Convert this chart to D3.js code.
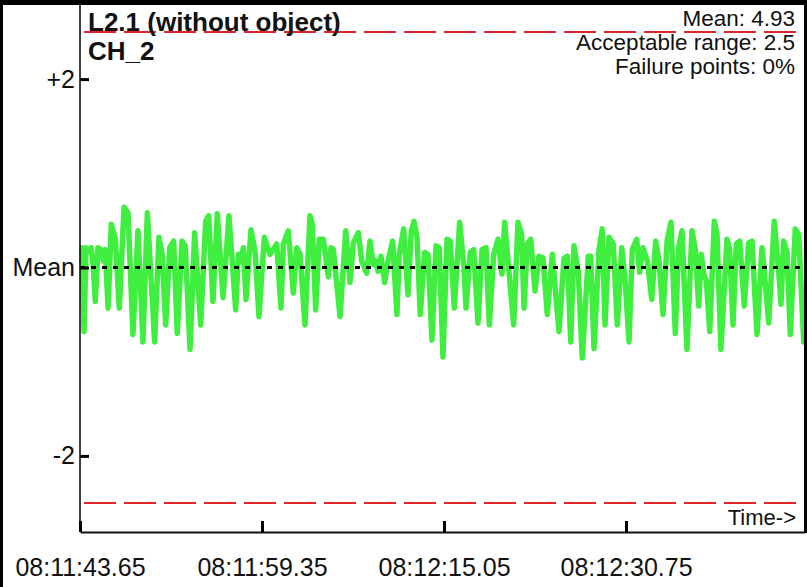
<!DOCTYPE html>
<html>
<head>
<meta charset="utf-8">
<script src="https://cdnjs.cloudflare.com/ajax/libs/d3/7.8.5/d3.min.js"></script>
<style>
  body { margin: 0; background: #fff; }
  svg { display: block; font-family: "Liberation Sans", Arial, sans-serif; }
</style>
</head>
<body>
<div id="chart"></div>
<script>
// header info
const chartTitle = "L2.1 (without object)"
const channel = "CH_2"
const meanValue = 4.93
const acceptableRange = 2.5
const failurePct = 0

// x ticks: seconds after first sample, with their clock labels
const timeSpan = 62.54
const tickSeconds = [0, 15.7, 31.4, 47.1]
const tickLabels = ["08:11:43.65", "08:11:59.35", "08:12:15.05", "08:12:30.75"]

// y ticks (deviation from mean)
const yTickValues = [2, 0, -2]
const yTickLabels = ["+2", "Mean", "-2"]

// signal: seconds since start / deviation from mean
const sampleTimes = [
  0.17, 0.35, 0.52, 0.75, 0.97, 1.15, 1.32, 1.55, 1.79, 2.01, 2.18, 2.42, 2.70, 3.05, 3.39, 3.80, 4.14, 4.57, 5.00, 5.43,
  5.81, 6.44, 6.81, 7.07, 7.39, 7.74, 8.08, 8.39, 8.80, 9.08, 9.49, 9.89, 10.41, 10.84, 11.10, 11.47, 11.84, 12.34, 12.85, 13.43,
  13.66, 13.89, 14.09, 14.32, 14.75, 15.10, 15.44, 15.90, 16.19, 16.39, 16.76, 16.97, 17.34, 17.54, 17.97, 18.40, 18.69, 18.98, 19.41, 19.84,
  20.04, 20.33, 20.64, 20.99, 21.42, 21.65, 21.85, 22.43, 22.92, 23.29, 23.58, 24.01, 24.30, 24.73, 25.02, 25.30, 25.53, 25.71, 25.96, 26.28,
  26.57, 26.97, 27.34, 27.54, 27.92, 28.29, 28.58, 28.81, 29.07, 29.35, 29.73, 30.02, 30.36, 30.71, 30.99, 31.31, 31.66, 31.94, 32.29, 32.75,
  33.10, 33.30, 33.67, 33.96, 34.33, 34.68, 35.02, 35.31, 35.69, 36.06, 36.40, 36.63, 37.41, 37.78, 38.10, 38.30, 38.58, 38.88, 39.25, 39.59,
  39.94, 40.31, 40.74, 41.32, 41.75, 42.04, 42.33, 42.61, 42.98, 43.33, 43.85, 44.05, 44.34, 44.77, 45.05, 45.29, 45.63, 46.00, 46.35, 46.73,
  47.01, 47.36, 47.64, 48.02, 48.28, 48.56, 48.94, 49.32, 49.66, 49.95, 50.29, 50.66, 50.98, 51.35, 51.64, 51.93, 52.36, 52.79, 53.08, 53.37,
  53.59, 53.80, 54.03, 54.32, 54.72, 54.95, 55.29, 55.81, 56.04, 56.33, 56.61, 56.91, 57.30, 57.68, 57.97, 58.40, 58.83, 59.03, 59.41, 59.89,
  60.27, 60.47, 60.70, 60.99, 61.27, 61.70, 62.00, 62.43
]
const sampleValues = [
  0.21, -0.68, 0.21, 0.17, 0.21, 0.00, -0.36, 0.21, 0.19, 0.07, 0.19, -0.43, 0.46, 0.30, -0.43, 0.64, 0.58, -0.71, 0.39, -0.79,
  0.58, -0.79, 0.32, 0.16, -0.61, 0.21, 0.28, -0.70, 0.28, 0.23, -0.87, 0.37, -0.61, 0.49, 0.55, -0.36, 0.57, -0.32, 0.55, -0.45,
  0.14, 0.07, 0.21, -0.34, 0.40, 0.17, -0.52, 0.32, 0.21, 0.14, 0.21, 0.25, -0.43, 0.25, 0.39, -0.27, 0.21, 0.14, -0.61, 0.55,
  0.46, -0.45, 0.30, 0.30, -0.10, 0.21, 0.19, -0.52, 0.39, -0.16, 0.26, 0.37, 0.07, -0.06, 0.28, 0.03, 0.07, -0.04, 0.12, -0.16,
  0.07, 0.28, -0.50, 0.14, 0.41, -0.29, 0.39, 0.49, 0.32, -0.50, 0.16, 0.14, -0.77, 0.23, 0.21, -0.95, 0.30, 0.28, -0.43, 0.48,
  0.03, -0.43, 0.16, 0.19, -0.59, 0.19, 0.21, -0.61, 0.14, 0.30, -0.07, 0.48, -0.61, 0.48, 0.35, -0.43, 0.25, 0.30, -0.25, 0.12,
  0.10, -0.50, 0.14, -0.68, 0.10, 0.12, -0.79, 0.23, -0.04, -0.96, 0.12, 0.12, -0.86, 0.19, 0.41, -0.61, 0.32, 0.25, -0.61, 0.21,
  -0.11, -0.79, 0.19, 0.30, -0.05, 0.21, 0.07, -0.34, 0.28, 0.07, -0.50, 0.30, 0.48, -0.70, 0.21, 0.39, -0.87, 0.39, 0.19, -0.41,
  0.14, -0.07, -0.14, -0.68, 0.49, 0.35, -0.87, 0.30, 0.19, -0.61, 0.25, 0.28, -0.41, 0.26, 0.28, -0.71, 0.21, -0.04, -0.59, 0.49,
  -0.04, -0.39, 0.28, 0.16, -0.71, 0.41, 0.35, -0.79
]

const width = 807
const height = 587
const left = 80
const right = 805
const axisY = 532

const data = sampleTimes.map((t, i) => ({ t: t, v: sampleValues[i] }))

const xScale = d3.scaleLinear().domain([0, timeSpan]).range([left, right])
const yScale = d3.scaleLinear().domain([-acceptableRange, acceptableRange]).range([503, 32])

const svg = d3.select("#chart")
    .append("svg")
    .attr("width", width)
    .attr("height", height)

svg.append("rect").attr("width", width).attr("height", height).attr("fill", "#fff")

// acceptable range limits
svg.selectAll(".limit")
    .data([acceptableRange, -acceptableRange])
    .join("line")
    .attr("class", "limit")
    .attr("x1", left + 4)
    .attr("x2", width)
    .attr("y1", d => yScale(d))
    .attr("y2", d => yScale(d))
    .attr("stroke", "#e0262b")
    .attr("stroke-width", 2)
    .attr("stroke-dasharray", "32,8")

// signal
const line = d3.line()
    .x(d => xScale(d.t))
    .y(d => yScale(d.v))

svg.append("path")
    .datum(data)
    .attr("d", line)
    .attr("fill", "none")
    .attr("stroke", "#40ee40")
    .attr("stroke-width", 5.5)
    .attr("stroke-linejoin", "round")
    .attr("stroke-linecap", "round")

// mean line on top of the signal
svg.append("line")
    .attr("x1", left)
    .attr("x2", right)
    .attr("y1", yScale(0))
    .attr("y2", yScale(0))
    .attr("stroke", "#000")
    .attr("stroke-width", 3)
    .attr("stroke-dasharray", "5,6")

// y axis
const yAxis = d3.axisLeft(yScale)
    .tickValues(yTickValues)
    .tickFormat((d, i) => yTickLabels[i])
    .tickSizeInner(-9)
    .tickSizeOuter(0)
    .tickPadding(5)

const gy = svg.append("g")
    .attr("transform", "translate(" + left + ",0)")
    .call(yAxis)
gy.select(".domain").remove()
gy.selectAll(".tick line").attr("stroke", "#000").attr("stroke-width", 3)
gy.selectAll(".tick text")
    .attr("font-size", "25px")
    .attr("font-family", "Liberation Sans, Arial, sans-serif")
    .attr("fill", "#111")

svg.append("line")
    .attr("x1", left).attr("x2", left)
    .attr("y1", 4).attr("y2", axisY)
    .attr("stroke", "#000")
    .attr("stroke-width", 1.5)

// x axis
const xAxis = d3.axisBottom(xScale)
    .tickValues(tickSeconds)
    .tickFormat((d, i) => tickLabels[i])
    .tickSizeInner(-11)
    .tickSizeOuter(0)
    .tickPadding(26)

const gx = svg.append("g")
    .attr("transform", "translate(0," + axisY + ")")
    .call(xAxis)
gx.select(".domain").attr("stroke", "#111").attr("stroke-width", 2)
gx.selectAll(".tick line").attr("stroke", "#000").attr("stroke-width", 3)
gx.selectAll(".tick text")
    .attr("font-size", "25px")
    .attr("font-family", "Liberation Sans, Arial, sans-serif")
    .attr("fill", "#111")

svg.append("text")
    .text("Time->")
    .attr("x", 796)
    .attr("y", 525)
    .attr("text-anchor", "end")
    .attr("font-size", "22px")
    .attr("fill", "#111")

// titles
svg.append("text")
    .text(chartTitle)
    .attr("x", 88)
    .attr("y", 31)
    .attr("font-size", "26px")
    .attr("font-weight", "bold")
    .attr("fill", "#111")

svg.append("text")
    .text(channel)
    .attr("x", 88)
    .attr("y", 60)
    .attr("font-size", "26px")
    .attr("font-weight", "bold")
    .attr("fill", "#111")

const infoLines = [
    "Mean: " + meanValue.toFixed(2),
    "Acceptable range: " + acceptableRange,
    "Failure points: " + failurePct + "%"
]
svg.selectAll(".info")
    .data(infoLines)
    .join("text")
    .attr("class", "info")
    .text(d => d)
    .attr("x", 795)
    .attr("y", (d, i) => 26 + i * 24)
    .attr("text-anchor", "end")
    .attr("font-size", "22.5px")
    .attr("fill", "#111")

// frame
svg.append("rect").attr("x", 0).attr("y", 0).attr("width", width).attr("height", 5).attr("fill", "#000")
svg.append("rect").attr("x", 0).attr("y", 0).attr("width", 3).attr("height", height).attr("fill", "#000")
svg.append("rect").attr("x", 804).attr("y", 0).attr("width", 3).attr("height", axisY + 1).attr("fill", "#000")
</script>
</body>
</html>
